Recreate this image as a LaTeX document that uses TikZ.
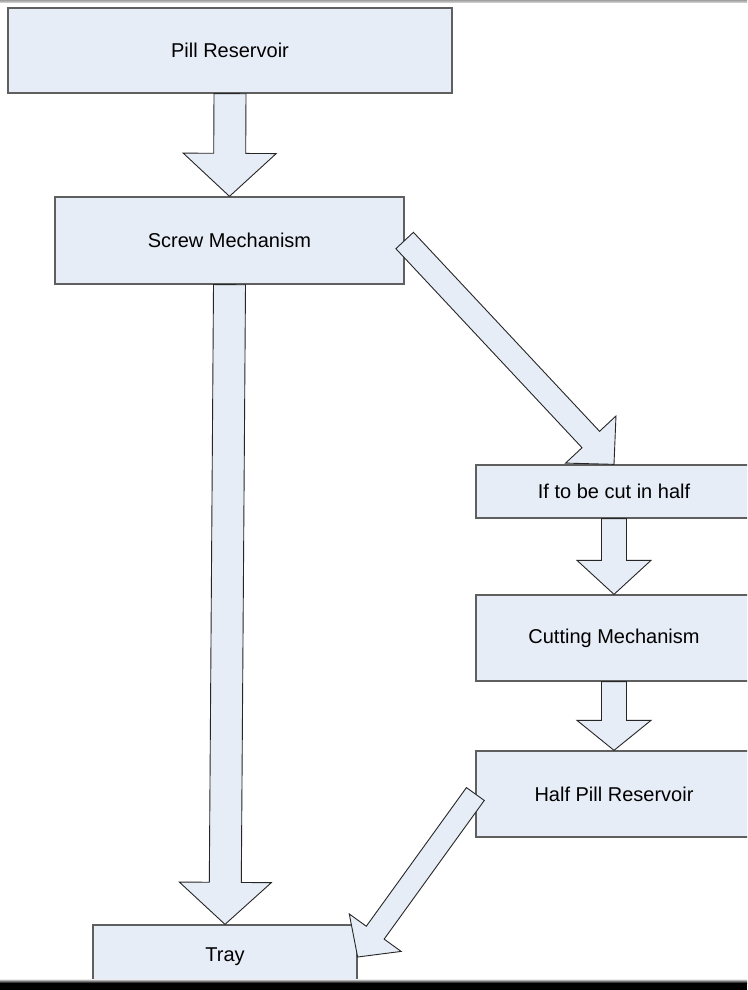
\documentclass[tikz,border=0pt]{standalone}
\usepackage{fontspec}
\setmainfont{Liberation Sans}
\usetikzlibrary{calc}
\definecolor{boxfill}{RGB}{231,237,247}
\definecolor{boxline}{RGB}{95,95,95}
\tikzset{
  box/.style={draw=boxline, line width=1.3pt, fill=boxfill, rectangle, inner sep=0pt,
              font=\fontsize{20}{24}\selectfont, text=black},
  blockarrow/.style={draw=black!85, line width=0.9pt, fill=boxfill, line join=miter},
}
% tail, tip, half shaft width, half head width, head length
\newcommand{\blockarr}[5]{%
  \coordinate (ba-t) at (#1);
  \coordinate (ba-p) at (#2);
  \coordinate (ba-b) at ($(ba-p)!#5!(ba-t)$);
  \filldraw[blockarrow] ($(ba-t)!#3!90:(ba-p)$) -- ($(ba-b)!#3!90:(ba-p)$)
    -- ($(ba-b)!#4!90:(ba-p)$) -- (ba-p) -- ($(ba-b)!#4!-90:(ba-p)$)
    -- ($(ba-b)!#3!-90:(ba-p)$) -- ($(ba-t)!#3!-90:(ba-p)$) -- cycle;
}
\begin{document}
\begin{tikzpicture}[x=1pt,y=-1pt]
\useasboundingbox (0,0) rectangle (747,990);
\clip (0,0) rectangle (747,990);
\fill[white] (0,0) rectangle (747,990);

\node[box, minimum width=444pt, minimum height=85pt] (pill) at (230,50.5) {Pill Reservoir};
\node[box, minimum width=349pt, minimum height=87pt] (screw) at (229.5,240.5) {Screw Mechanism};
\node[box, minimum width=276pt, minimum height=53pt] (ifcut) at (614,491.5) {If to be cut in half};
\node[box, minimum width=276pt, minimum height=86pt] (cut) at (614,638) {Cutting Mechanism};
\node[box, minimum width=276pt, minimum height=86pt] (half) at (614,794) {Half Pill Reservoir};
\node[box, minimum width=264pt, minimum height=64pt] (tray) at (225,957) {Tray};

\blockarr{pill.south}{screw.north}{16pt}{46.5pt}{43pt}
\blockarr{screw.south}{tray.north}{16pt}{46pt}{42pt}
\blockarr{screw.east}{ifcut.north}{12pt}{34.5pt}{34pt}
\blockarr{ifcut.south}{cut.north}{12.5pt}{37pt}{34pt}
\blockarr{cut.south}{half.north}{12.5pt}{37pt}{30pt}
\blockarr{half.west}{tray.east}{11pt}{32pt}{30pt}

% window frame bars
\shade[top color=gray!75, bottom color=gray!25] (0,0) rectangle (747,3);
\shade[top color=gray!15, bottom color=black] (0,979) rectangle (747,983);
\fill[black] (0,983) rectangle (747,990);
\end{tikzpicture}
\end{document}
